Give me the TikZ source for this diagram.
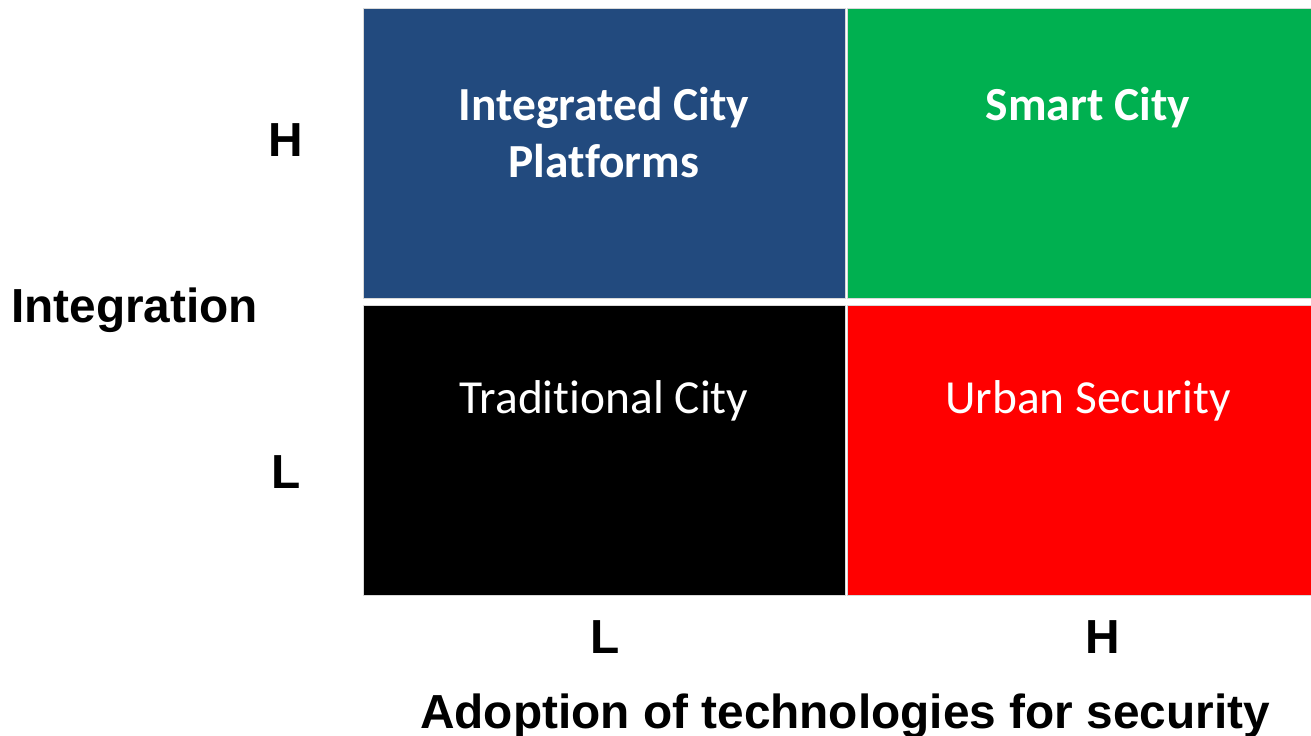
\documentclass[tikz,border=0pt]{standalone}
\usepackage{fontspec}
\usepackage{xcolor}
\usepackage{tikz}
\setmainfont[Ligatures={NoCommon}]{Carlito}
\newfontfamily\axisfont{Liberation Sans}
\definecolor{quadblue}{HTML}{224A7E}
\definecolor{quadgreen}{HTML}{00B050}
\definecolor{quadred}{HTML}{FF0000}

\begin{document}
\begin{tikzpicture}[
        quad/.style={anchor=north west,inner sep=0pt,minimum height=2.90cm,draw=black!15,line width=0.4pt},
        quadtext/.style={text=white,align=center,font=\fontsize{13.5}{16.4}\selectfont},
        axislabel/.style={anchor=base,font=\axisfont\bfseries\fontsize{13.6}{16}\selectfont}]
        \useasboundingbox (0,0) rectangle (13.11,7.35);
        % the four quadrants
        \node[quad,fill=quadblue,minimum width=4.82cm] (hl) at (3.63,7.27) {};
        \node[quad,fill=quadgreen,minimum width=4.64cm] (hh) at (8.47,7.27) {};
        \node[quad,fill=black,minimum width=4.82cm] (ll) at (3.63,4.30) {};
        \node[quad,fill=quadred,minimum width=4.64cm] (lh) at (8.47,4.30) {};
        \node[quadtext,font=\fontsize{13.5}{16.4}\selectfont\bfseries] (icp) at (6.04,6.025) {Integrated City\\Platforms};
        \node[quadtext,anchor=base,font=\fontsize{13.5}{16.4}\selectfont\bfseries] (smart) at (10.88,6.15) {Smart City};
        \node[quadtext,anchor=base] (trad) at (6.04,3.22) {Traditional City};
        \node[quadtext,anchor=base] (urban) at (10.88,3.22) {Urban Security};
        % axis labels
        \node[axislabel] (yhigh) at (2.86,5.79) {H};
        \node[axislabel] (ylow) at (2.86,2.47) {L};
        \node[axislabel] (yaxis) at (1.345,4.13) {Integration};
        \node[axislabel] (xlow) at (6.05,0.82) {L};
        \node[axislabel] (xhigh) at (11.03,0.82) {H};
        \node[axislabel] (xaxis) at (8.45,0.07) {Adoption of technologies for security};
    \end{tikzpicture}
\end{document}
